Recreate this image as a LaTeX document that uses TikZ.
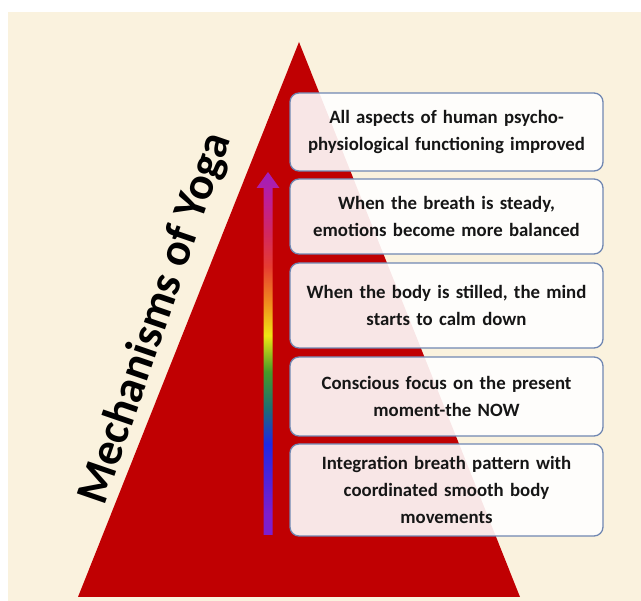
\documentclass[tikz,border=0pt]{standalone}
\usepackage{fontspec}
\setmainfont{Carlito}
\usetikzlibrary{calc}
\definecolor{cream}{RGB}{250,242,222}
\definecolor{pyramidred}{RGB}{192,0,2}
\definecolor{boxline}{RGB}{112,135,178}
\definecolor{textgray}{RGB}{22,22,22}
\definecolor{rbviolet}{RGB}{125,30,205}
\definecolor{rbblue}{RGB}{30,40,230}
\definecolor{rbteal}{RGB}{30,110,115}
\definecolor{rbgreen}{RGB}{70,155,40}
\definecolor{rbyellow}{RGB}{240,228,20}
\definecolor{rborange}{RGB}{240,140,30}
\definecolor{rbred}{RGB}{230,60,50}
\definecolor{rbpink}{RGB}{210,40,95}
\definecolor{rbmagenta}{RGB}{190,30,150}
\definecolor{rbpurple}{RGB}{160,30,190}
\pgfdeclareverticalshading{rainbowbar}{100bp}{color(0bp)=(rbviolet); color(28bp)=(rbviolet); color(37.5bp)=(rbblue); color(42.5bp)=(rbteal); color(47.5bp)=(rbgreen); color(52.5bp)=(rbyellow); color(57bp)=(rborange); color(62bp)=(rbred); color(66.5bp)=(rbpink); color(71bp)=(rbmagenta); color(75bp)=(rbpurple); color(100bp)=(rbpurple)}
\tikzset{
  stage/.style={draw=boxline, line width=1.3pt, rounded corners=9pt, fill=white, fill opacity=0.9, text opacity=1,
    text=textgray, font=\fontsize{18.8}{27}\selectfont\bfseries, align=center, text width=300pt,
    minimum width=313pt, inner sep=0pt},
  title/.style={rotate=71, anchor=base, font=\fontsize{46}{52}\selectfont\bfseries, text=black, inner sep=0pt}
}
\begin{document}
\begin{tikzpicture}[x=1pt,y=-1pt]
  \useasboundingbox (0,0) rectangle (641,601);
  \fill[white] (0,0) rectangle (641,601);
  \fill[cream] (8,12) rectangle (641,601);% sfondo
  \coordinate(apex) at (299,42);
  \coordinate(bl) at (78,597);
  \coordinate(br) at (520,597);
  \fill[pyramidred] (apex) -- (bl) -- (br) -- cycle;% piramide
  \coordinate(arrbot) at (268,535);
  \coordinate(arrtop) at (268,172);
  \shade[shading=rainbowbar] ($(arrbot)+(-4.5,0)$) -- ($(arrtop)+(-4.5,16)$) -- ($(arrtop)+(-11.5,16)$)
    -- (arrtop) -- ($(arrtop)+(11.5,16)$) -- ($(arrtop)+(4.5,16)$) -- ($(arrbot)+(4.5,0)$) -- cycle;% freccia arcobaleno
  \node[stage, minimum height=78pt] (box1) at (446.5,132) {All aspects of human psycho-\\physiological functioning improved};
  \node[stage, minimum height=75pt] (box2) at (446.5,216.5) {When the breath is steady,\\emotions become more balanced};
  \node[stage, minimum height=85pt] (box3) at (446.5,305.5) {When the body is stilled, the mind\\starts to calm down};
  \node[stage, minimum height=79pt] (box4) at (446.5,396.5) {Conscious focus on the present\\moment-the NOW};
  \node[stage, minimum height=92pt] (box5) at (446.5,490) {Integration breath pattern with\\coordinated smooth body\\movements};
  \node[title] (title) at (167.5,323) {Mechanisms of Yoga};
\end{tikzpicture}
\end{document}
